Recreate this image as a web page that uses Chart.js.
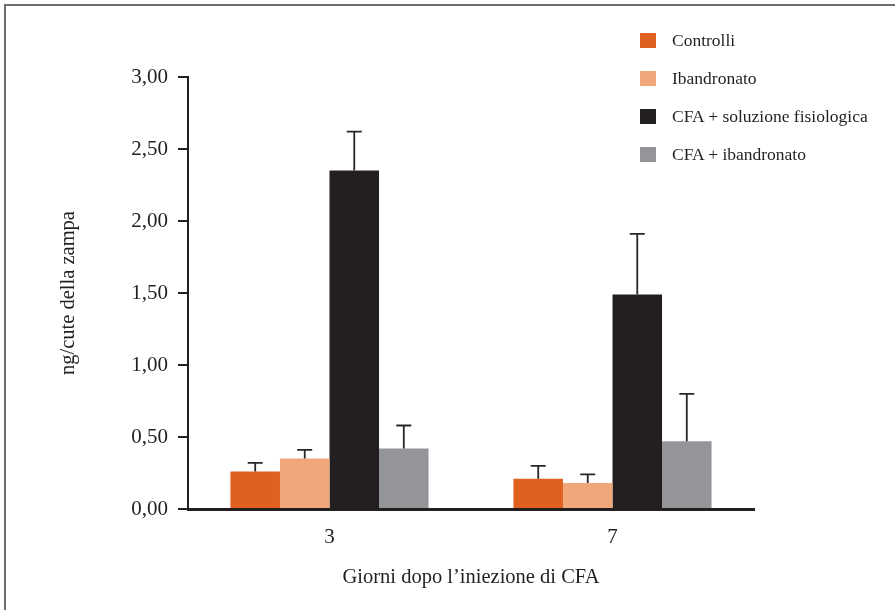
<!DOCTYPE html>
<html>
<head>
<meta charset="utf-8">
<script src="https://cdn.jsdelivr.net/npm/chart.js@4.4.1/dist/chart.umd.min.js"></script>
<style>
  html, body { margin: 0; padding: 0; background: #fff; overflow: hidden; }
  #wrap { position: relative; width: 895px; height: 610px; }
  #frame { position: absolute; left: 4px; top: 4px; width: 1000px; height: 1000px;
           border-left: 2px solid #6e6e6e; border-top: 2px solid #6e6e6e; pointer-events: none; }
  #legend { position: absolute; left: 640px; top: 21px; font-family: "Liberation Serif", "DejaVu Serif", serif;
            font-size: 17.5px; color: #231F20; }
  .item { display: flex; align-items: center; height: 38.2px; }
  .box { width: 16px; height: 15px; margin-right: 16px; }
</style>
</head>
<body>
<div id="wrap">
  <canvas id="c" width="895" height="610"></canvas>
  <div id="frame"></div>
  <div id="legend"></div>
</div>
<script>
const categories = ["3", "7"];
const seriesNames = ["Controlli", "Ibandronato", "CFA + soluzione fisiologica", "CFA + ibandronato"];
const controlli = [0.26, 0.21];
const ibandronato = [0.35, 0.18];
const cfaSoluzione = [2.35, 1.49];
const cfaIbandronato = [0.42, 0.47];
const errControlli = [0.06, 0.09];
const errIbandronato = [0.06, 0.06];
const errCfaSoluzione = [0.27, 0.42];
const errCfaIbandronato = [0.16, 0.33];
const yTicks = [0, 0.5, 1, 1.5, 2, 2.5, 3];
const xTitle = "Giorni dopo l\u2019iniezione di CFA";
const yTitle = "ng/cute della zampa";

const colors = ["#E0601F", "#F0A87A", "#231F20", "#939598"];
const serif = "'Liberation Serif', 'DejaVu Serif', serif";

const values = [controlli, ibandronato, cfaSoluzione, cfaIbandronato];
const errors = [errControlli, errIbandronato, errCfaSoluzione, errCfaIbandronato];

const datasets = seriesNames.map((name, i) => ({
  label: name,
  data: values[i],
  errors: errors[i],
  backgroundColor: colors[i],
  borderWidth: 0,
  categoryPercentage: 0.7,
  barPercentage: 1.0
}));

const errorBars = {
  id: 'errorBars',
  afterDatasetsDraw(chart) {
    const ctx = chart.ctx;
    const yScale = chart.scales.y;
    ctx.save();
    ctx.strokeStyle = '#2b2728';
    ctx.lineWidth = 1.8;
    chart.data.datasets.forEach((ds, i) => {
      const meta = chart.getDatasetMeta(i);
      meta.data.forEach((el, j) => {
        const top = yScale.getPixelForValue(ds.data[j] + ds.errors[j]);
        ctx.beginPath();
        ctx.moveTo(el.x, el.y);
        ctx.lineTo(el.x, top);
        ctx.moveTo(el.x - 7.5, top);
        ctx.lineTo(el.x + 7.5, top);
        ctx.stroke();
      });
    });
    ctx.restore();
  }
};

new Chart(document.getElementById('c'), {
  type: 'bar',
  data: { labels: categories, datasets: datasets },
  plugins: [errorBars],
  options: {
    responsive: false,
    animation: false,
    layout: { padding: { left: 56, top: 77, right: 141, bottom: 0 } },
    plugins: { legend: { display: false }, tooltip: { enabled: false } },
    scales: {
      x: {
        offset: true,
        grid: { display: false, drawTicks: false },
        border: { display: true, color: '#231F20', width: 3 },
        ticks: { color: '#231F20', font: { family: serif, size: 21 }, padding: 16 },
        title: { display: true, text: xTitle, color: '#231F20', font: { family: serif, size: 20.5 }, padding: { top: 0, bottom: 20 } },
        afterFit(scale) { scale.height = 101; }
      },
      y: {
        min: 0, max: 3,
        afterBuildTicks(scale) { scale.ticks = yTicks.map(v => ({ value: v })); },
        grid: { display: true, drawOnChartArea: false, drawTicks: true, tickLength: 10, color: '#231F20', lineWidth: 2 },
        border: { display: true, color: '#231F20', width: 2 },
        ticks: {
          color: '#231F20', font: { family: serif, size: 21 }, padding: 10,
          callback: (v) => Number(v).toFixed(2).replace('.', ',')
        },
        title: { display: true, text: yTitle, color: '#231F20', font: { family: serif, size: 20.5 }, padding: { top: 0, bottom: 0 } },
        afterFit(scale) { scale.width = 132; }
      }
    }
  }
});

const legend = document.getElementById('legend');
seriesNames.forEach((name, i) => {
  const row = document.createElement('div');
  row.className = 'item';
  const box = document.createElement('span');
  box.className = 'box';
  box.style.background = colors[i];
  const txt = document.createElement('span');
  txt.textContent = name;
  row.appendChild(box);
  row.appendChild(txt);
  legend.appendChild(row);
});
</script>
</body>
</html>
